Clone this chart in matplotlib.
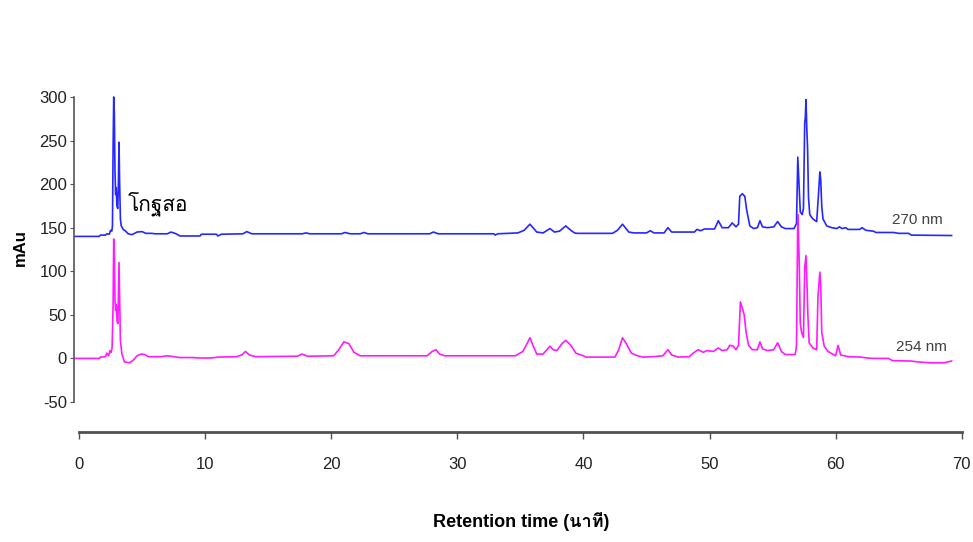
import matplotlib
matplotlib.use("Agg")
import matplotlib.pyplot as plt
from matplotlib import font_manager
from matplotlib.ft2font import FT2Font

# chromatogram traces (time in min, absorbance in mAu)
t270 = [-0.4, 1.6, 1.7, 2.1, 2.2, 2.4, 2.5, 2.6, 2.65, 2.7, 2.75, 2.8, 2.85, 2.9, 2.95,
        3.0, 3.07, 3.12, 3.17, 3.22, 3.28, 3.35, 3.5, 3.7, 3.9, 4.2, 4.6, 5.0, 5.3, 5.8,
        6.0, 7.0, 7.3, 7.7, 8.0, 9.6, 9.7, 10.9, 11.0, 11.3, 13.0, 13.3, 13.7, 17.7, 18.0,
        18.3, 20.8, 21.1, 21.5, 22.3, 22.6, 22.9, 27.8, 28.1, 28.5, 32.9, 33.0, 33.2, 34.8,
        35.3, 35.76, 36.3, 36.8, 37.35, 37.7, 38.1, 38.6, 39.0, 39.3, 39.5, 42.3, 42.7, 43.1,
        43.6, 44.0, 45.0, 45.3, 45.6, 46.4, 46.7, 47.0, 48.8, 49.0, 49.3, 49.6, 50.4, 50.7,
        51.0, 51.5, 51.8, 52.1, 52.3, 52.4, 52.6, 52.8, 52.95, 53.2, 53.5, 53.8, 54.0, 54.2,
        54.6, 55.1, 55.4, 55.7, 56.0, 56.7, 56.9, 57.0, 57.1, 57.2, 57.35, 57.45, 57.55,
        57.6, 57.65, 57.72, 57.78, 57.85, 57.95, 58.2, 58.5, 58.65, 58.75, 58.82, 58.9,
        59.0, 59.3, 59.7, 60.1, 60.3, 60.5, 60.8, 61.0, 61.9, 62.1, 62.4, 63.0, 63.2, 64.6,
        65.0, 65.8, 66.0, 69.2]
a270 = [140, 140, 141.5, 141.5, 143, 142.5, 147, 146, 152, 240, 300, 280, 215, 188, 196,
        175, 172, 200, 248, 200, 160, 152, 148, 146, 143, 142, 145, 145.5, 143.5, 143.5,
        143, 143, 145, 143, 140.5, 140.5, 142.5, 142.5, 140.5, 142.5, 143, 145.5, 143, 143, 144,
        143, 143, 144.5, 143, 143, 144.5, 143, 143, 145, 143, 143, 141.5, 143, 144,
        147, 154, 145, 144, 149, 145, 146, 152, 147, 144, 143.5, 143.5, 147, 154,
        145, 144, 144, 146.5, 144, 144, 150, 145, 145, 148, 146.5, 148.5, 148.5, 158,
        150, 150, 155.5, 151, 154, 186, 189, 186, 170, 152, 149, 150, 158, 151,
        150, 151, 157, 151, 149, 149, 155, 231, 200, 168, 165, 172, 270,
        277, 297, 262, 240, 185, 165, 160, 157, 190, 214, 205, 175,
        160, 152, 150, 149, 151, 149, 150, 148, 148, 150, 147, 146, 144.5, 144.5,
        143.5, 143.5, 141.5, 141]

t254 = [-0.4, 1.6, 1.7, 2.1, 2.2, 2.35, 2.45, 2.55, 2.62, 2.7, 2.75, 2.8, 2.85, 2.9, 2.95,
        3.02, 3.08, 3.13, 3.17, 3.22, 3.28, 3.4, 3.6, 4.0, 4.3, 4.6, 4.9, 5.2, 5.5, 6.5,
        7.0, 7.5, 8.0, 9.0, 9.5, 10.5, 11.0, 12.5, 12.9, 13.2, 13.5, 14.0, 17.3, 17.7, 18.1,
        20.2, 20.6, 21.0, 21.4, 21.8, 22.3, 27.6, 28.0, 28.3, 28.6, 29.0, 34.6, 35.2, 35.6,
        35.76, 36.0, 36.3, 36.8, 37.1, 37.35, 37.6, 37.9, 38.3, 38.6, 39.0, 39.4, 40.0, 40.2,
        42.5, 42.8, 43.1, 43.4, 43.8, 44.3, 44.7, 45.5, 46.3, 46.7, 47.0, 47.5, 48.4, 48.7,
        49.1, 49.5, 49.8, 50.3, 50.7, 51.0, 51.4, 51.6, 51.9, 52.1, 52.3, 52.45, 52.6, 52.75,
        52.9, 53.1, 53.4, 53.8, 54.0, 54.2, 54.6, 55.1, 55.4, 55.7, 56.0, 56.8, 56.9, 57.0,
        57.1, 57.2, 57.3, 57.45, 57.55, 57.65, 57.72, 57.8, 57.9, 58.2, 58.5, 58.6, 58.75,
        58.82, 58.9, 59.1, 59.4, 60.0, 60.2, 60.4, 61.0, 62.0, 62.5, 63.0, 64.2, 64.5, 66.0,
        66.5, 67.5, 68.6, 69.2]
a254 = [0, 0, 1.5, 2, 6, 3, 9, 7, 12, 60, 137, 120, 67, 55, 62,
        42, 40, 80, 110, 70, 20, 5, -4, -5, -2, 3, 5, 4.5, 2, 2,
        3, 2, 1, 1, 0.5, 0.5, 1.5, 2, 4, 8, 4, 2, 2.5, 5, 2.5,
        3, 10, 19, 17, 7, 3, 3, 8, 10, 5, 3, 3, 8, 19,
        23.7, 15, 5, 5, 10, 14, 10, 9, 17, 20.7, 15, 6, 3, 1.5,
        1.5, 10, 23.7, 17, 6, 3, 1.5, 2, 3, 10, 4, 1.5, 2, 6,
        10, 7, 9, 8, 12, 9, 10, 15, 14, 10, 15, 65, 58, 50,
        30, 15, 10, 10, 19, 11, 9, 10, 18, 8, 4.5, 4.5, 15, 165,
        120, 40, 30, 24, 104, 118, 90, 50, 18, 12, 10, 70, 99,
        85, 30, 14, 8, 3, 15, 4, 2, 1.5, 0.5, 0, 0, -2.5, -3,
        -4, -5, -5, -3]

x_ticks = [0, 10, 20, 30, 40, 50, 60, 70]
y_ticks = [-50, 0, 50, 100, 150, 200, 250, 300]

# find an installed family that has Thai glyphs
thai_family = None
for f in font_manager.fontManager.ttflist:
    try:
        if FT2Font(f.fname).get_char_index(0x0E01):
            thai_family = f.name
            break
    except Exception:
        pass

fams = ['Liberation Sans', 'DejaVu Sans']
if thai_family:
    fams.insert(1, thai_family)
plt.rcParams['font.family'] = fams
plt.rcParams['axes.unicode_minus'] = False

fig = plt.figure(figsize=(9.73, 5.42), dpi=100)
ax = fig.add_axes([74 / 973, 1 - 402 / 542, 894 / 973, 309.4 / 542])

ax.plot(t270, a270, color='#2626ff', lw=1.2)
ax.plot(t254, a254, color='#ff1aff', lw=1.2)

ax.set_xlim(-0.4, 70.5)
ax.set_ylim(-50, 305)

for s in ['top', 'right']:
    ax.spines[s].set_visible(False)
ax.spines['left'].set_bounds(-50, 300)
ax.spines['left'].set_color('#555555')
ax.spines['left'].set_linewidth(1.2)
# x axis sits detached below the plot, about 30 px under the -50 line
ax.spines['bottom'].set_position(('outward', 21.6))
ax.spines['bottom'].set_bounds(0, 70)
ax.spines['bottom'].set_color('#505050')
ax.spines['bottom'].set_linewidth(2)

ax.set_xticks(x_ticks)
ax.set_yticks(y_ticks)
ax.tick_params(axis='y', direction='out', length=3, colors='#555555', labelcolor='#222222',
               labelsize=12, pad=2)
ax.tick_params(axis='x', direction='out', length=5, width=1, colors='#505050',
               labelcolor='#222222', labelsize=12, pad=13)

ax.set_ylabel('mAu', fontsize=12, fontweight='bold', labelpad=8)
ax.set_xlabel('Retention time (นาที)', fontsize=13, fontweight='bold', labelpad=29)

ax.text(3.9, 178, 'โกฐสอ', fontsize=15, color='black', ha='left', va='center')
ax.text(64.5, 158.5, '270 nm', fontsize=11, color='#404040', ha='left', va='center')
ax.text(64.8, 12.6, '254 nm', fontsize=11, color='#404040', ha='left', va='center')

fig.savefig('out.png', dpi=100)
